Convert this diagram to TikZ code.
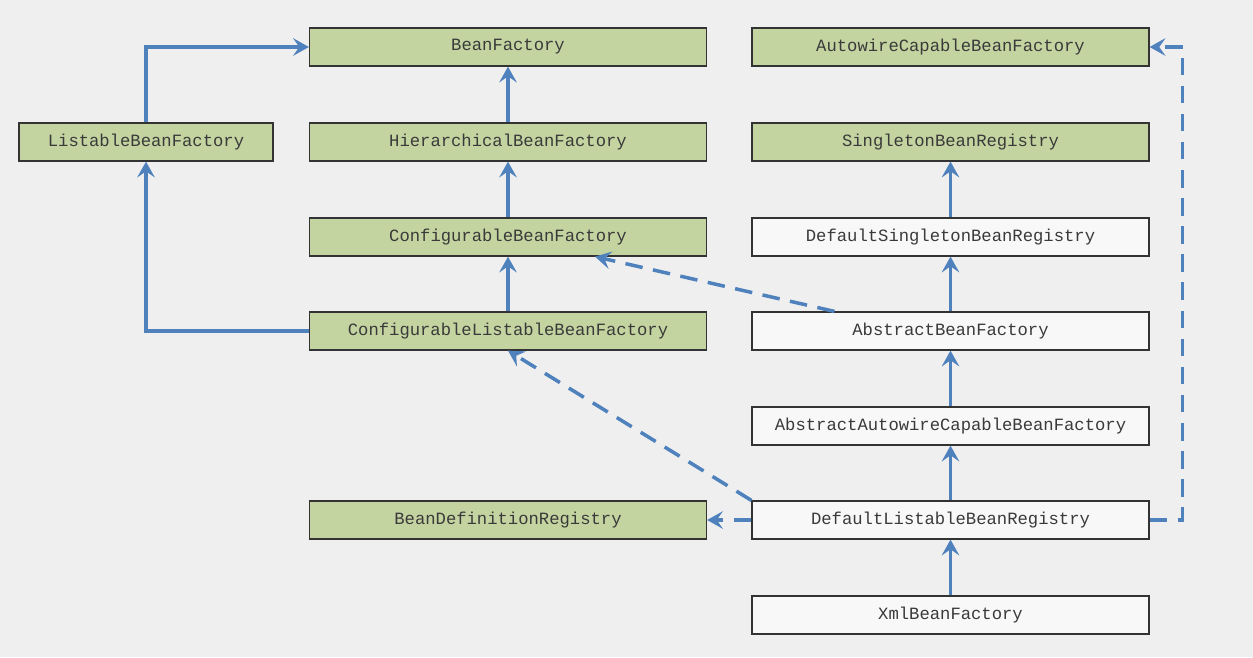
\documentclass[tikz,border=0pt]{standalone}
\usepackage{fontspec}
\setmonofont{Liberation Mono}
\usetikzlibrary{arrows.meta,positioning,calc}
\definecolor{bgc}{RGB}{239,239,239}
\definecolor{iface}{RGB}{196,212,160}
\definecolor{impl}{RGB}{248,248,248}
\definecolor{arrc}{RGB}{79,129,189}
\definecolor{txtc}{RGB}{58,58,58}

\tikzset{
  box/.style={draw=black!80, line width=0.7pt, minimum width=7.94cm, minimum height=0.76cm,
    inner sep=0pt, text=txtc, font=\ttfamily\fontsize{9.8}{11}\selectfont},
  ibox/.style={box, fill=iface},
  cbox/.style={box, fill=impl},
  arr/.style={->, draw=arrc, line width=2pt},
  darr/.style={arr, dash pattern=on 10pt off 6pt}
}

\begin{document}
\begin{tikzpicture}[x=0.02cm, y=-0.02cm, >={Stealth[length=9pt, width=10pt, inset=3.5pt]}]

  % Background and bounds
  \fill[bgc] (0,0) rectangle (1253,657);
  \useasboundingbox (0,0) rectangle (1253,657);

  % Define coordinates for nodes
  \node[ibox] (BF) at (508, 47) {BeanFactory};
  \node[ibox] (ACBF) at (950.5, 47) {AutowireCapableBeanFactory};
  \node[ibox, minimum width=5.08cm] (LBF) at (146, 142) {ListableBeanFactory};
  \node[ibox] (HBF) at (508, 142) {HierarchicalBeanFactory};
  \node[ibox] (SBR) at (950.5, 142) {SingletonBeanRegistry};
  \node[ibox] (CBF) at (508, 237) {ConfigurableBeanFactory};
  \node[cbox] (DSBR) at (950.5, 237) {DefaultSingletonBeanRegistry};
  \node[ibox] (CLBF) at (508, 331) {ConfigurableListableBeanFactory};
  \node[cbox] (ABF) at (950.5, 331) {AbstractBeanFactory};
  \node[cbox] (AACBF) at (950.5, 426) {AbstractAutowireCapableBeanFactory};
  \node[ibox] (BDR) at (508, 520) {BeanDefinitionRegistry};
  \node[cbox] (DLBR) at (950.5, 520) {DefaultListableBeanRegistry};
  \node[cbox] (XBF) at (950.5, 615) {XmlBeanFactory};

  % Draw arrows between nodes
  \draw[arr] (LBF.north) |- (BF.west);
  \draw[arr] (HBF) -- (BF);
  \draw[arr] (CBF) -- (HBF);
  \draw[arr] (CLBF) -- (CBF);
  \draw[arr] (CLBF.west) -| (LBF.south);
  \draw[arr] (DSBR) -- (SBR);
  \draw[arr] (ABF) -- (DSBR);
  \draw[arr] (AACBF) -- (ABF);
  \draw[arr] (DLBR) -- (AACBF);
  \draw[arr] (XBF) -- (DLBR);
  \draw[darr] ($(ABF.north west)+(83,0)$) -- ($(CBF.south)+(87,0)$);
  \draw[darr] (DLBR.north west) -- (CLBF.south);
  \draw[darr] (DLBR.west) -- (BDR.east);
  \draw[darr] (DLBR.east) -- ++(33,0) |- (ACBF.east);
\end{tikzpicture}
\end{document}
